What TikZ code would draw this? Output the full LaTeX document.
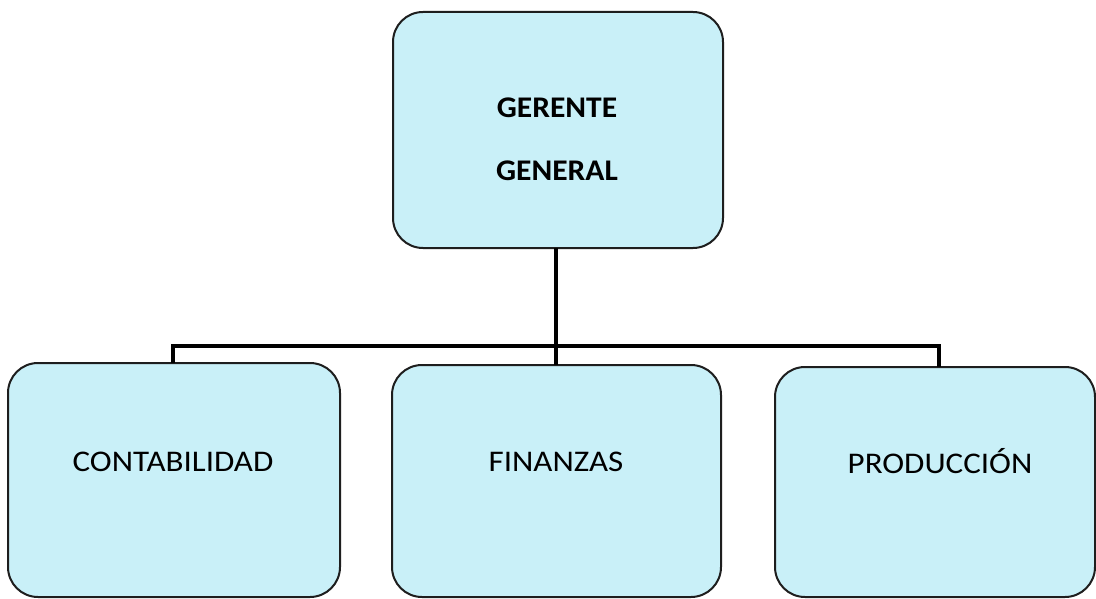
\documentclass[tikz,border=0pt]{standalone}
\usepackage{fontspec}
\setmainfont{Carlito}
\definecolor{boxfill}{RGB}{201,240,248}
\definecolor{boxline}{RGB}{30,30,30}
\tikzset{
  orgbox/.style={draw=boxline, line width=2pt, fill=boxfill, rounded corners=30pt, inner sep=0pt},
  orglabel/.style={font=\fontsize{30}{30}\selectfont, text=black, inner sep=0pt, xscale=1.1},
  toplabel/.style={orglabel, font=\fontsize{30}{30}\selectfont\bfseries, xscale=0.955},
  conn/.style={draw=black, line width=4pt}
}
\begin{document}
\begin{tikzpicture}[x=1pt, y=-1pt]
  \useasboundingbox (0,0) rectangle (1096,599);
  \fill[white] (0,0) rectangle (1096,599);

  % connector bus and its anchor points
  \coordinate (bus) at (556,346);
  \coordinate (busL) at (173,346);
  \coordinate (busR) at (939,346);

  % boxes (geometry only)
  \node[orgbox, minimum width=330pt, minimum height=236pt] (ger) at (558,130) {};
  \node[orgbox, minimum width=332pt, minimum height=234pt] (cont) at (174,480) {};
  \node[orgbox, minimum width=329pt, minimum height=232pt] (fin) at (556.5,481) {};
  \node[orgbox, minimum width=320pt, minimum height=230pt] (prod) at (935,482) {};

  % connectors
  \draw[conn] ([xshift=-2pt,yshift=1pt]ger.south) -- (bus);
  \draw[conn, line cap=rect] (busL) -- (busR);
  \draw[conn] (busL) -- ([yshift=-1pt]busL |- cont.north);
  \draw[conn] (bus) -- ([yshift=-1pt]bus |- fin.north);
  \draw[conn] (busR) -- ([yshift=-1pt]busR |- prod.north);

  % labels
  \node[toplabel] (gerA) at (557,108) {GERENTE};
  \node[toplabel] (gerB) at (557,170.5) {GENERAL};
  \node[orglabel] (contT) at (173,461.5) {CONTABILIDAD};
  \node[orglabel] (finT) at (556,461.5) {FINANZAS};
  \node[orglabel] (prodT) at (940,461.5) {PRODUCCIÓN};
\end{tikzpicture}
\end{document}
